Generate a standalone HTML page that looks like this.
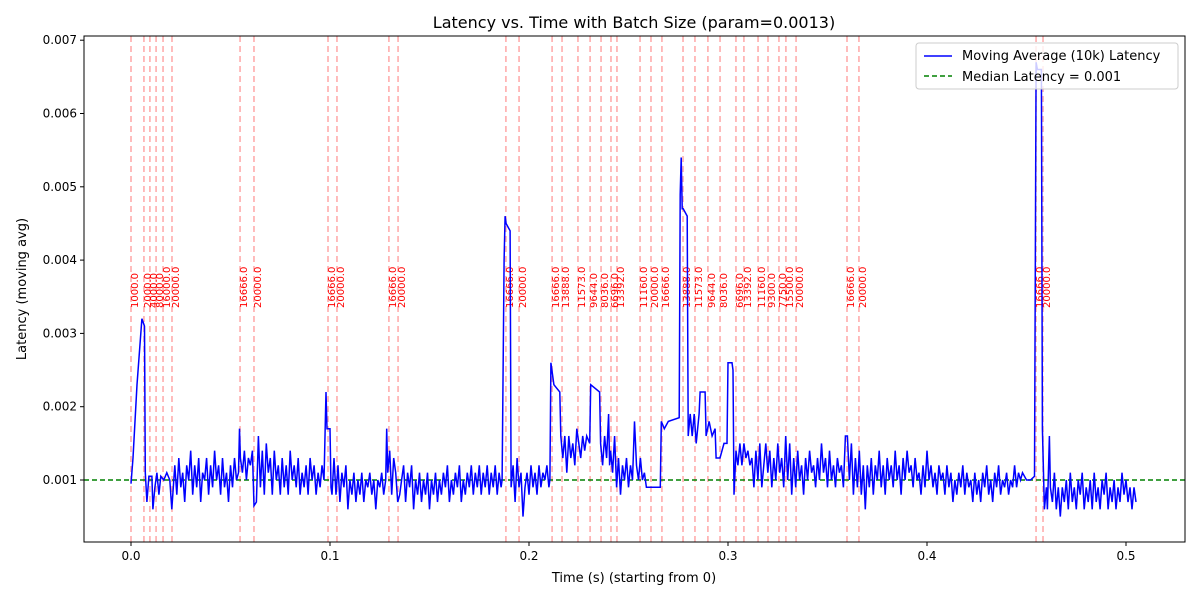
<!DOCTYPE html>
<html><head><meta charset="utf-8"><style>
body{margin:0;background:#fff;font-family:"Liberation Sans","DejaVu Sans",sans-serif}
svg text{font-family:"DejaVu Sans","Liberation Sans",sans-serif}
</style></head><body>
<svg id="c" width="1200" height="600" xmlns="http://www.w3.org/2000/svg">
<rect width="1200" height="600" fill="#fff"/>
<text x="634" y="28" font-size="16" text-anchor="middle">Latency vs. Time with Batch Size (param=0.0013)</text>
<g id="vl"></g><g id="med"></g><g id="ser"></g>
<rect x="84" y="36" width="1101" height="506" fill="none" stroke="#000" stroke-width="1"/>
<g id="ax"></g>
<text x="634" y="582" font-size="13" text-anchor="middle">Time (s) (starting from 0)</text>
<text transform="translate(26,289) rotate(-90)" font-size="13" text-anchor="middle">Latency (moving avg)</text>
<g>
<rect x="916" y="43" width="262" height="46" rx="3" fill="#fff" fill-opacity="0.8" stroke="#ccc"/>
<line x1="924" y1="56" x2="952" y2="56" stroke="#0000ff" stroke-width="1.5"/>
<text x="962" y="60" font-size="13">Moving Average (10k) Latency</text>
<line x1="924" y1="76" x2="952" y2="76" stroke="#008000" stroke-width="1.5" stroke-dasharray="5,3"/>
<text x="962" y="81" font-size="13">Median Latency = 0.001</text>
</g>
</svg>
<script>
const xTicks=[0,0.1,0.2,0.3,0.4,0.5];
const xTickLabels=["0.0","0.1","0.2","0.3","0.4","0.5"];
const yTicks=[0.001,0.002,0.003,0.004,0.005,0.006,0.007];
const yTickLabels=["0.001","0.002","0.003","0.004","0.005","0.006","0.007"];
const median=0.001;
const batchTimes=[0,0.0065,0.0095,0.0126,0.0161,0.0206,0.0548,0.0618,0.0990,0.1035,0.1296,0.1342,0.1884,0.1950,0.2116,0.2166,0.2246,0.2307,0.2362,0.2412,0.2442,0.2558,0.2613,0.2668,0.2774,0.2834,0.2899,0.2960,0.3040,0.3080,0.3151,0.3201,0.3256,0.3291,0.3342,0.3598,0.3658,0.4548,0.4583];
const batchLabels=["1000.0","2000.0","4000.0","8000.0","16000.0","20000.0","16666.0","20000.0","16666.0","20000.0","16666.0","20000.0","16666.0","20000.0","16666.0","13888.0","11573.0","9644.0","8036.0","6696.0","13392.0","11160.0","20000.0","16666.0","13888.0","11573.0","9644.0","8036.0","6696.0","13392.0","11160.0","9300.0","7750.0","15500.0","20000.0","16666.0","20000.0","16666.0","20000.0"];
// [time, latency] samples
const samples=[
[0,0.00095],[0.001,0.0013],[0.003,0.0023],[0.0055,0.0032],[0.0068,0.0031],[0.0072,0.0011],[0.008,0.0007],[0.009,0.00105],[0.0105,0.00105],[0.011,0.0006],[0.012,0.0009],[0.013,0.0011],[0.014,0.0008],[0.015,0.00105],[0.0165,0.0010],[0.018,0.0011],[0.0195,0.0010],[0.0205,0.0006],
[0.022,0.0012],[0.023,0.0008],[0.024,0.0013],[0.025,0.0009],[0.026,0.0011],[0.027,0.0007],[0.028,0.0012],[0.029,0.0010],[0.030,0.0014],[0.031,0.0008],[0.032,0.0012],[0.033,0.0009],[0.034,0.0013],[0.035,0.0007],[0.036,0.0011],[0.037,0.0010],[0.038,0.0013],[0.039,0.0008],[0.040,0.0012],[0.041,0.0009],[0.042,0.0014],[0.043,0.0010],[0.044,0.0012],[0.045,0.0008],[0.046,0.0013],[0.047,0.0009],[0.048,0.0011],[0.049,0.0007],[0.050,0.0012],[0.051,0.0009],[0.052,0.0013],[0.053,0.0010],[0.054,0.0011],
[0.0545,0.0017],[0.055,0.0013],[0.056,0.0011],[0.057,0.0014],[0.058,0.0010],[0.059,0.0013],[0.060,0.0012],[0.061,0.0014],[0.0618,0.00065],[0.063,0.0007],[0.064,0.0016],[0.065,0.0009],[0.066,0.0014],[0.067,0.0008],[0.068,0.0015],[0.069,0.0011],[0.070,0.0013],[0.071,0.0008],[0.072,0.0014],[0.073,0.0010],[0.074,0.0012],[0.075,0.0008],[0.076,0.0013],[0.077,0.0009],[0.078,0.0012],[0.079,0.0008],[0.080,0.0014],[0.081,0.0010],[0.082,0.0012],[0.083,0.0009],[0.084,0.0013],[0.085,0.0008],[0.086,0.0011],[0.087,0.0009],[0.088,0.0012],[0.089,0.0008],[0.090,0.0013],[0.091,0.0010],[0.092,0.0012],[0.093,0.0008],[0.094,0.0011],[0.095,0.0009],[0.096,0.0012],[0.097,0.0010],[0.098,0.0022],[0.0985,0.0017],[0.1,0.0017],[0.1005,0.0009],[0.101,0.0008],[0.102,0.0013],[0.103,0.0008],[0.104,0.0012],[0.105,0.0007],[0.106,0.0011],[0.107,0.0009],[0.108,0.0012],[0.109,0.0006],[0.110,0.0010],[0.111,0.0008],[0.112,0.0011],[0.113,0.0007],[0.114,0.0010],[0.115,0.0008],[0.116,0.0011],[0.117,0.0007],[0.118,0.0010],[0.119,0.0009],[0.120,0.0011],[0.121,0.0008],[0.122,0.0010],[0.123,0.0006],[0.124,0.0010],[0.125,0.0009],[0.126,0.0011],[0.127,0.0008],[0.128,0.0010],[0.1285,0.0017],[0.129,0.0011],[0.130,0.0014],[0.131,0.0008],[0.132,0.0013],[0.133,0.0011],[0.134,0.0007],[0.135,0.0008],[0.136,0.0010],[0.137,0.0012],[0.138,0.0007],[0.139,0.0011],[0.140,0.0009],[0.141,0.0012],[0.142,0.0006],[0.143,0.0010],[0.144,0.0008],[0.145,0.0011],[0.146,0.0007],[0.147,0.0010],[0.148,0.0008],[0.149,0.0011],[0.150,0.0006],[0.151,0.0010],[0.152,0.0008],[0.153,0.0011],[0.154,0.0007],[0.155,0.0010],[0.156,0.0008],[0.157,0.0011],[0.158,0.0009],[0.159,0.0012],[0.160,0.0007],[0.161,0.0010],[0.162,0.0008],[0.163,0.0011],[0.164,0.0009],[0.165,0.0012],[0.166,0.0007],[0.167,0.0010],[0.168,0.0008],[0.169,0.0011],[0.170,0.0009],[0.171,0.0012],[0.172,0.0008],[0.173,0.0011],[0.174,0.0009],[0.175,0.0012],[0.176,0.0008],[0.177,0.0011],[0.178,0.0009],[0.179,0.0012],[0.180,0.0008],[0.181,0.0011],[0.182,0.0009],[0.183,0.0012],[0.184,0.0008],[0.185,0.0011],[0.186,0.0009],[0.1865,0.0010],
[0.1875,0.0040],[0.188,0.0046],[0.1885,0.0045],[0.1905,0.0044],[0.191,0.0009],[0.192,0.0012],[0.193,0.0007],[0.194,0.0013],[0.195,0.0009],[0.196,0.0011],[0.197,0.0005],[0.198,0.0009],[0.199,0.0011],[0.200,0.0008],[0.201,0.0012],[0.202,0.0009],[0.203,0.0011],[0.204,0.0008],[0.205,0.0012],[0.206,0.0009],[0.207,0.0011],[0.208,0.0010],[0.209,0.0012],[0.210,0.0009],[0.2105,0.0010],
[0.211,0.0026],[0.2125,0.0023],[0.2155,0.0022],[0.216,0.0016],[0.217,0.0013],[0.218,0.0016],[0.219,0.0011],[0.220,0.0016],[0.221,0.0013],[0.222,0.0015],[0.223,0.0012],[0.224,0.0017],[0.225,0.0015],[0.226,0.0013],[0.227,0.0016],[0.228,0.0014],[0.229,0.0016],[0.2305,0.0015],[0.231,0.0023],[0.2355,0.0022],[0.236,0.0015],[0.237,0.0012],[0.238,0.0016],[0.239,0.0013],[0.240,0.0019],[0.2405,0.0012],[0.241,0.0014],[0.242,0.0011],[0.243,0.0016],[0.244,0.0009],[0.245,0.0013],[0.246,0.0008],[0.247,0.0012],[0.248,0.0010],[0.249,0.0013],[0.250,0.0009],[0.251,0.0012],[0.252,0.0010],[0.253,0.0018],[0.254,0.0012],[0.255,0.0010],[0.256,0.0013],[0.257,0.0010],[0.258,0.0011],[0.259,0.0009],[0.262,0.0009],[0.266,0.0009],[0.2665,0.0018],[0.268,0.0017],[0.270,0.0018],[0.2755,0.00185],
[0.276,0.0049],[0.2765,0.0054],[0.277,0.0047],[0.2775,0.0047],[0.2795,0.0046],[0.280,0.0016],[0.281,0.0019],[0.282,0.0016],[0.283,0.0019],[0.284,0.0015],[0.2855,0.0019],[0.286,0.0022],[0.2885,0.0022],[0.289,0.0016],[0.2905,0.0018],[0.292,0.0016],[0.2935,0.0017],[0.294,0.0013],[0.296,0.0013],[0.298,0.0015],[0.2995,0.0015],[0.300,0.0026],[0.302,0.0026],[0.3025,0.0025],[0.303,0.0008],[0.304,0.0014],[0.305,0.0012],[0.306,0.0015],[0.307,0.0012],[0.308,0.0015],[0.309,0.0013],[0.310,0.0014],[0.311,0.0012],[0.312,0.0013],[0.313,0.0009],[0.314,0.0014],[0.315,0.0010],[0.316,0.0015],[0.317,0.0009],[0.318,0.0012],[0.319,0.0015],[0.320,0.0011],[0.321,0.0014],[0.322,0.0009],[0.323,0.0013],[0.324,0.0010],[0.325,0.0015],[0.326,0.0011],[0.327,0.0013],[0.328,0.0009],[0.329,0.0016],[0.330,0.0010],[0.331,0.0015],[0.332,0.0008],[0.333,0.0013],[0.334,0.0009],[0.335,0.0014],[0.336,0.0010],[0.337,0.0012],[0.338,0.0008],[0.339,0.0013],[0.340,0.0010],[0.341,0.0014],[0.342,0.0011],[0.343,0.0012],[0.344,0.0009],[0.345,0.0013],[0.346,0.0010],[0.347,0.0015],[0.348,0.0011],[0.349,0.0013],[0.350,0.0009],[0.351,0.0014],[0.352,0.0010],[0.353,0.0012],[0.354,0.0009],[0.355,0.0013],[0.356,0.0011],[0.357,0.0012],[0.358,0.0009],[0.359,0.0016],[0.360,0.0016],[0.361,0.0010],[0.362,0.0015],[0.363,0.0008],[0.364,0.0013],[0.365,0.0009],[0.366,0.0014],[0.367,0.0008],[0.368,0.0012],[0.369,0.0006],[0.370,0.0012],[0.371,0.0009],[0.372,0.0013],[0.373,0.0008],[0.374,0.0012],[0.375,0.0010],[0.376,0.0014],[0.377,0.0009],[0.378,0.0012],[0.379,0.0008],[0.380,0.0013],[0.381,0.0010],[0.382,0.0012],[0.383,0.0009],[0.384,0.0014],[0.385,0.0010],[0.386,0.0012],[0.387,0.0008],[0.388,0.0013],[0.389,0.0010],[0.390,0.0014],[0.391,0.0011],[0.392,0.0012],[0.393,0.0009],[0.394,0.0013],[0.395,0.0010],[0.396,0.0011],[0.397,0.0008],[0.398,0.0012],[0.399,0.0009],[0.400,0.0014],[0.401,0.0010],[0.402,0.0012],[0.403,0.0009],[0.404,0.0011],[0.405,0.0008],[0.406,0.0012],[0.407,0.0010],[0.408,0.0011],[0.409,0.0008],[0.410,0.0012],[0.411,0.0009],[0.412,0.0011],[0.413,0.0007],[0.414,0.0010],[0.415,0.0008],[0.416,0.0011],[0.417,0.0009],[0.418,0.0012],[0.419,0.0008],[0.420,0.0011],[0.421,0.0009],[0.422,0.0010],[0.423,0.0007],[0.424,0.0011],[0.425,0.0008],[0.426,0.0010],[0.427,0.0007],[0.428,0.0011],[0.429,0.0009],[0.430,0.0012],[0.431,0.0008],[0.432,0.0010],[0.433,0.0007],[0.434,0.0011],[0.435,0.0009],[0.436,0.0012],[0.437,0.0008],[0.438,0.0010],[0.439,0.0009],[0.440,0.0011],[0.441,0.0008],[0.442,0.0010],[0.443,0.0009],[0.444,0.0012],[0.445,0.0009],[0.446,0.0011],[0.447,0.0010],[0.448,0.0011],[0.450,0.0010],[0.452,0.0010],[0.454,0.00105],
[0.4548,0.0067],[0.4555,0.0066],[0.4575,0.0066],[0.458,0.0017],[0.459,0.0006],[0.460,0.0009],[0.4605,0.0006],[0.4615,0.0016],[0.462,0.0009],[0.463,0.0007],[0.464,0.0011],[0.465,0.0006],[0.466,0.0009],[0.467,0.0005],[0.468,0.0009],[0.469,0.0007],[0.470,0.0010],[0.471,0.0006],[0.472,0.0011],[0.473,0.0007],[0.474,0.0009],[0.475,0.0006],[0.476,0.0010],[0.477,0.0008],[0.478,0.0011],[0.479,0.0006],[0.480,0.0009],[0.481,0.0007],[0.482,0.0010],[0.483,0.0006],[0.484,0.0011],[0.485,0.0007],[0.486,0.0009],[0.487,0.0006],[0.488,0.0010],[0.489,0.0008],[0.490,0.0011],[0.491,0.0006],[0.492,0.0009],[0.493,0.0007],[0.494,0.0010],[0.495,0.0006],[0.496,0.0009],[0.497,0.0007],[0.498,0.0011],[0.499,0.0008],[0.500,0.0010],[0.501,0.0007],[0.502,0.0009],[0.503,0.0006],[0.504,0.0009],[0.505,0.0007]
];
const NS="http://www.w3.org/2000/svg";
const X0=84,X1=1185,Y0=36,Y1=542;
const xs=t=>131+t*1990;
const ys=v=>480-(v-0.001)*73300;
function mk(tag,attrs,parent){const e=document.createElementNS(NS,tag);for(const k in attrs)e.setAttribute(k,attrs[k]);parent.appendChild(e);return e;}
const ax=document.getElementById('ax');
xTicks.forEach((t,i)=>{
  const l=mk('line',{x1:xs(t),x2:xs(t),y1:Y1,y2:Y1+4,stroke:'#000'},ax);
  
  
  const tx=mk('text',{x:xs(t),y:Y1+18,'font-size':12,'text-anchor':'middle'},ax);
  tx.textContent=xTickLabels[i];
  
  
});
yTicks.forEach((v,i)=>{
  const l=mk('line',{x1:X0-4,x2:X0,y1:ys(v),y2:ys(v),stroke:'#000'},ax);
  
  
  const tx=mk('text',{x:X0-7,y:ys(v)+4,'font-size':12,'text-anchor':'end'},ax);
  tx.textContent=yTickLabels[i];
  
  
});
const vl=document.getElementById('vl');
batchTimes.forEach((t,i)=>{
  const l=mk('line',{x1:xs(t),x2:xs(t),y1:Y0,y2:Y1,stroke:'#ff0000','stroke-opacity':0.35,'stroke-width':1.5,'stroke-dasharray':'6,4'},vl);
  
  
  const tx=mk('text',{transform:`translate(${xs(t)+7},308) rotate(-90)`,'font-size':10,fill:'#ff0000'},vl);
  tx.textContent=batchLabels[i];
  
  
});
const med=mk('line',{x1:X0,x2:X1,y1:ys(median),y2:ys(median),stroke:'#008000','stroke-width':1.5,'stroke-dasharray':'5,3'},document.getElementById('med'));


const p=mk('path',{d:samples.map((s,i)=>(i?'L':'M')+xs(s[0]).toFixed(1)+','+ys(s[1]).toFixed(1)).join(''),fill:'none',stroke:'#0000ff','stroke-width':1.5},document.getElementById('ser'));


</script>
</body></html>
